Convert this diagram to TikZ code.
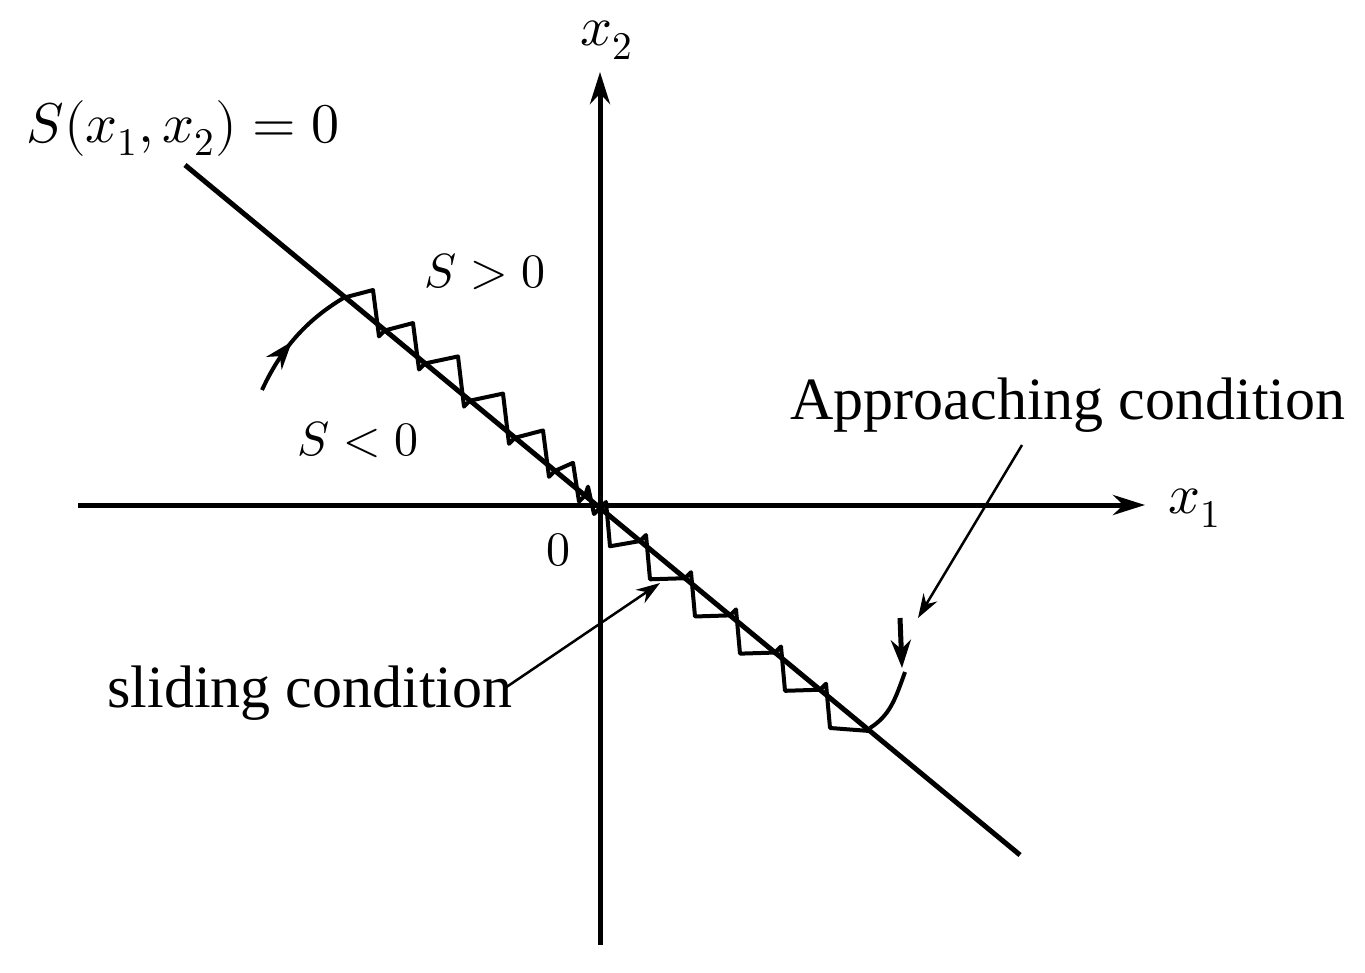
\documentclass[tikz,border=0pt]{standalone}
\usepackage{fontspec}
\setmainfont{Liberation Serif}
\usepackage{unicode-math}
\setmathfont{Latin Modern Math}
\usetikzlibrary{arrows.meta,decorations.markings}
\begin{document}
\begin{tikzpicture}[x=1pt,y=-1pt,
  ax/.style={line width=5pt,-{Stealth[length=32pt,width=20pt]}},
  zz/.style={line width=4pt,line join=round},
  ptr/.style={line width=2.5pt,-{Stealth[length=24pt,width=16pt]}},
  lbl/.style={font=\fontsize{56}{62}\selectfont},
  sml/.style={font=\fontsize{48}{54}\selectfont},
  txt/.style={font=\fontsize{60}{66}\selectfont}]
\useasboundingbox (0,0) rectangle (1365,972);
\draw[ax] (78,505) -- (1145,505);
\draw[ax] (600,945) -- (600,72);
\coordinate (s1) at (185,165);
\coordinate (s2) at (1020,855);
\draw[line width=5pt] (s1) -- (s2);
% upper chattering
\foreach \a/\b in {345/385,385/425,425/470,470/515,515/555,555/585,585/600}{
  \draw[zz] ({\a},{508+0.826*(\a-600)}) -- ({\b-12},{508+0.826*(\b-12-600)-32*(\b-\a)/42}) -- ({\b-6},{508+0.826*(\b-600)+6}) -- ({\b},{508+0.826*(\b-600)});}
% lower chattering
\foreach \a/\b in {600/640,640/685,685/730,730/775,775/820,820/870}{
  \draw[zz] ({\b},{508+0.826*(\b-600)}) -- ({\a+10},{508+0.826*(\a+10-600)+30}) -- ({\a+6},{508+0.826*(\a-600)-6}) -- ({\a},{508+0.826*(\a-600)});}
\draw[zz,decoration={markings,mark=at position 0.45 with {\arrow{Stealth[length=28pt,width=20pt]}}},postaction={decorate}]
  (262,390) .. controls (285,340) and (315,315) .. (345,297);
\draw[line width=5pt,-{Stealth[length=28pt,width=20pt]}] (900,618) -- (902,668);
\draw[zz] (905,672) .. controls (895,700) and (890,715) .. (870,728);
\node[lbl] (x2) at (607,40) {$x_2$};
\node[lbl] (x1) at (1195,508) {$x_1$};
\node[lbl] (S) at (183,128) {$S(x_1,x_2)=0$};
\node[sml] (sp) at (485,272) {$S>0$};
\node[sml] (sn) at (358,440) {$S<0$};
\node[sml] (o) at (558,550) {$0$};
\node[txt] (ap) at (1068,405) {Approaching condition};
\node[txt] (sl) at (310,693) {sliding condition};
\coordinate (apt) at (918,618);
\coordinate (slt) at (660,583);
\draw[ptr] (1022,445) -- (apt);
\draw[ptr] (505,688) -- (slt);
\end{tikzpicture}
\end{document}
